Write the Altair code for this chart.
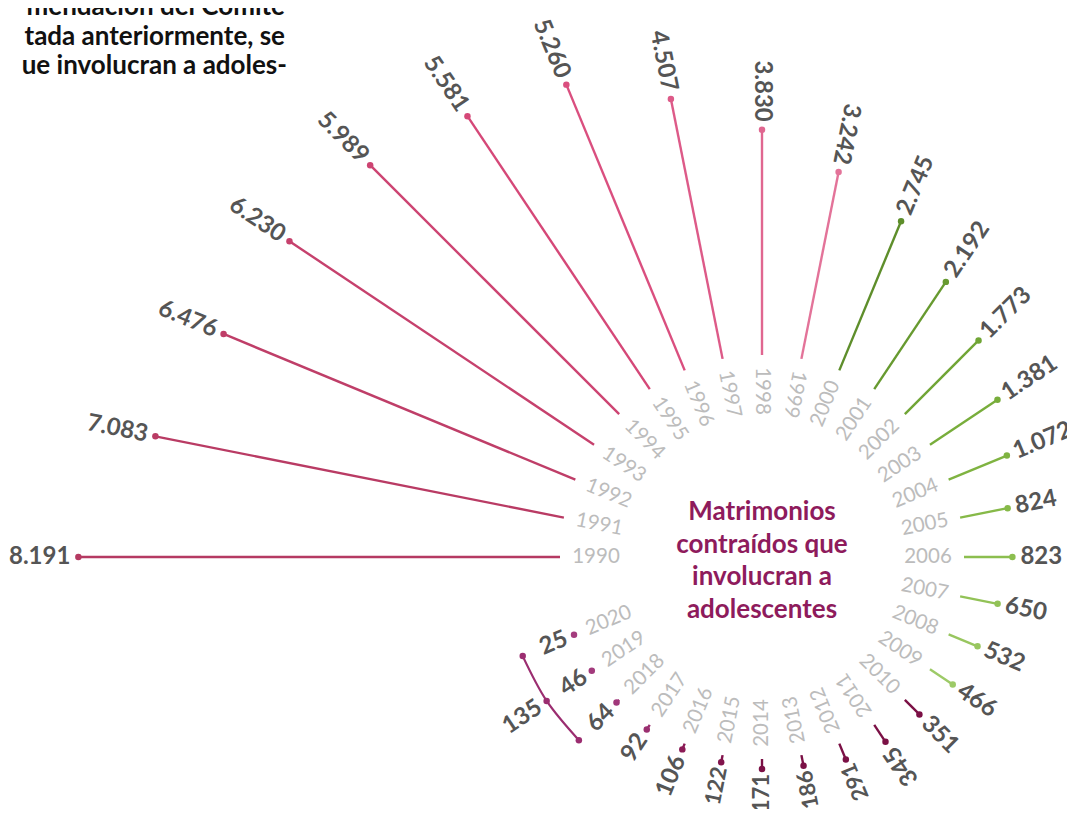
import altair as alt
import pandas as pd

# ---- data ----
years = list(range(1990, 2021))
values = [8191, 7083, 6476, 6230, 5989, 5581, 5260, 4507, 3830, 3242,
          2745, 2192, 1773, 1381, 1072, 824, 823, 650, 532, 466,
          351, 345, 291, 186, 171, 122, 106, 92, 64, 46, 25]
colors = ["#b53a62", "#b93b64", "#bf3e68", "#c6416d", "#cd4472", "#d54878",
          "#da4f7f", "#dd5a88", "#e06690", "#e37399",
          "#5e8e2b", "#679a30", "#70a535", "#78ad3b", "#7fb341", "#86b948",
          "#8cbe4f", "#92c257", "#98c65f", "#9dca67",
          "#7b1045", "#7b1045", "#7b1045", "#7b1045", "#7b1045", "#82144c",
          "#8b1b56", "#9a2f70", "#a0377a", "#a23a7c", "#a43c7e"]
bracket_years = [2018, 2019, 2020]
center_lines = ["Matrimonios", "contraídos que", "involucran a", "adolescentes"]
para_lines = ["mendación del Comité", "tada anteriormente, se", "ue involucran a adoles-"]

df = pd.DataFrame({
    "year": [str(y) for y in years],
    "yr": years,
    "value": values,
    "color": colors,
    "label": [f"{v:,}".replace(",", ".") for v in values],
})
bsel = [values[years.index(y)] for y in bracket_years]
dfb = pd.DataFrame({"yr": bracket_years, "value": bsel})
dfsum = pd.DataFrame({"yr": [2019], "label": [str(sum(bsel))]})
dfc = pd.DataFrame({"i": list(range(len(center_lines))), "t": center_lines})

W, H = 1059, 801
CX, CY = 754, 549
xs = alt.Scale(domain=[-CX, W - CX])
ys = alt.Scale(domain=[-(H - CY), CY])

ANG = "(180 + 11.25*(datum.yr-1990))"
BOTTOM = "(datum.yr >= 2012 && datum.yr <= 2015)"

base = alt.Chart(df).transform_calculate(
    a=ANG + "*PI/180",
    r="202 + 0.0588*datum.value",
    inward="datum.yr < 2000 || datum.yr > 2010",
    gap=BOTTOM + " ? 5 : 8",
    fs=BOTTOM + " ? 22 : 24",
).transform_calculate(
    x0="202*cos(datum.a)", y0="-202*sin(datum.a)",
    x1="datum.r*cos(datum.a)", y1="-datum.r*sin(datum.a)",
    xl="(datum.r+datum.gap)*cos(datum.a)", yl="-(datum.r+datum.gap)*sin(datum.a)",
    xy="166*cos(datum.a)", yy="-166*sin(datum.a)",
    rot="datum.inward ? (" + ANG + "+180) % 360 : " + ANG + " % 360",
)

def X(f):
    return alt.X(f, scale=xs, axis=None)

def Y(f):
    return alt.Y(f, scale=ys, axis=None)

VFS = 24

rules = base.mark_rule(strokeWidth=2.4).encode(
    x=X("x0:Q"), y=Y("y0:Q"), x2="x1:Q", y2="y1:Q",
    color=alt.Color("color:N", scale=None))
dots = base.mark_circle(size=42, opacity=1).encode(
    x=X("x1:Q"), y=Y("y1:Q"), color=alt.Color("color:N", scale=None))

year_txt = base.mark_text(font="Lato", fontSize=20.5, color="#bcbcbc",
                          align="center", baseline="middle").encode(
    x=X("xy:Q"), y=Y("yy:Q"), text="year:N",
    angle=alt.Angle("rot:Q", scale=None))

val_in = base.transform_filter("datum.inward").mark_text(
    font="Lato", fontWeight="bold", color="#555555",
    align="right", baseline="middle").encode(
    x=X("xl:Q"), y=Y("yl:Q"), text="label:N",
    size=alt.Size("fs:Q", scale=None),
    angle=alt.Angle("rot:Q", scale=None))
val_out = base.transform_filter("!datum.inward").mark_text(
    font="Lato", fontWeight="bold", color="#555555",
    align="left", baseline="middle").encode(
    x=X("xl:Q"), y=Y("yl:Q"), text="label:N",
    size=alt.Size("fs:Q", scale=None),
    angle=alt.Angle("rot:Q", scale=None))

# bracket for the last three years
bcol = "#9b2d70"
bbase = alt.Chart(dfb).transform_calculate(
    a=ANG + "*PI/180",
).transform_calculate(
    bx="259*cos(datum.a)", by="-259*sin(datum.a)",
)
bline = bbase.mark_line(color=bcol, strokeWidth=2.2, interpolate="natural").encode(
    x=X("bx:Q"), y=Y("by:Q"), order="yr:Q")
bdots = bbase.mark_circle(size=42, opacity=1, color=bcol).encode(
    x=X("bx:Q"), y=Y("by:Q"))
bsum = alt.Chart(dfsum).transform_calculate(
    a=ANG + "*PI/180",
    rot="(" + ANG + "+180) % 360",
).transform_calculate(
    sx="288*cos(datum.a)", sy="-288*sin(datum.a)",
).mark_text(font="Lato", fontSize=VFS, fontWeight="bold", color="#555555",
            align="center", baseline="middle").encode(
    x=X("sx:Q"), y=Y("sy:Q"), text="label:N",
    angle=alt.Angle("rot:Q", scale=None))

center = alt.Chart(dfc).transform_calculate(
    cx="0", cy="-(datum.i - 1.5)*32.7 - 4",
).mark_text(
    font="Lato", fontSize=26, fontWeight="bold", color="#8e1b5c",
    align="center", baseline="middle").encode(
    x=X("cx:Q"), y=Y("cy:Q"), text="t:N")

para = []
for line, px, py in zip(para_lines, [277, 277, 279], [7, 37, 66]):
    para.append(alt.Chart(pd.DataFrame({"k": [0]})).mark_text(
        font="Lato", fontSize=26, fontWeight="bold", color="#111111",
        align="right", baseline="alphabetic").encode(
        x=alt.value(px), y=alt.value(py), text=alt.value(line)))

chart = alt.layer(rules, dots, year_txt, val_in, val_out, bline, bdots, bsum,
                  center, *para).properties(
    width=W, height=H, autosize=alt.AutoSizeParams(type="none"), padding=0
).configure_view(stroke=None)

chart.save("out.html", embed_options={"renderer": "svg", "actions": False})
